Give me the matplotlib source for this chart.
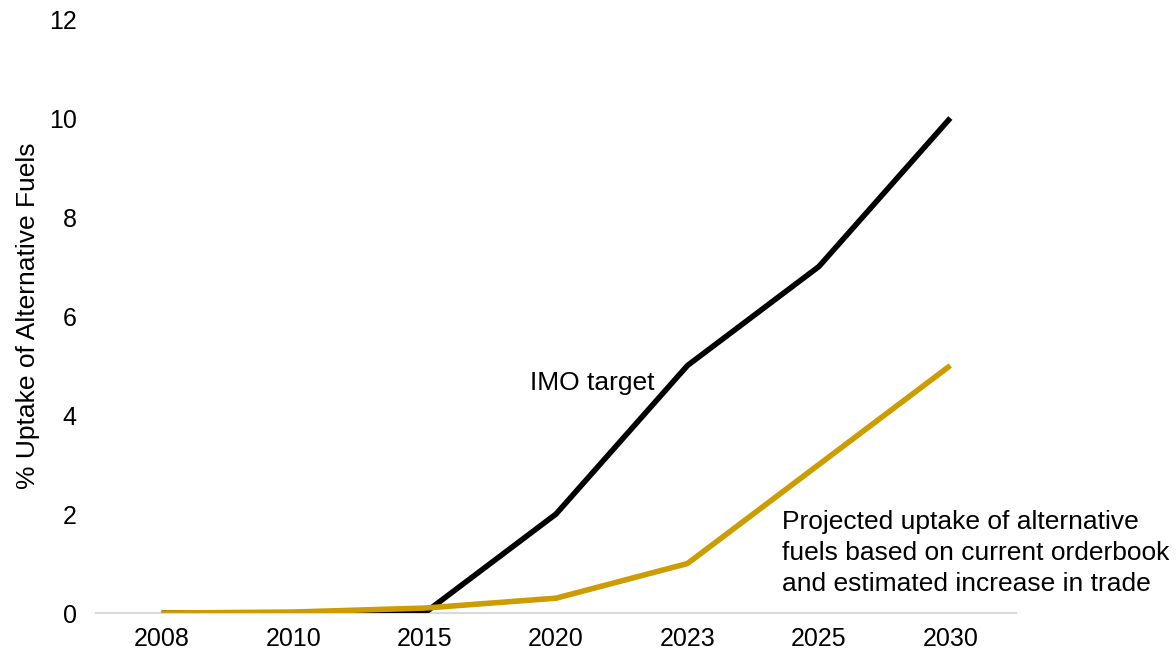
import numpy as np
import matplotlib.pyplot as plt

plt.rcParams['font.family'] = ['Liberation Sans', 'DejaVu Sans']

# uptake of alternative fuels (%)
YEARS = ['2008', '2010', '2015', '2020', '2023', '2025', '2030']
IMO_TARGET = [0, 0, 0, 2, 5, 7, 10]
PROJECTED = [0, 0.02, 0.1, 0.3, 1.0, 3, 5]

GOLD = '#CC9C00'

fig = plt.figure(figsize=(11.76, 6.56), dpi=100)
ax = fig.add_axes([0.0816, 0.0655, 0.7824, 0.9055])

x = np.arange(len(YEARS))
ax.plot(x, IMO_TARGET, color='black', lw=4, solid_capstyle='butt', zorder=3)
ax.plot(x, PROJECTED, color=GOLD, lw=4, solid_capstyle='butt', zorder=4)

ax.set_xlim(-0.5, len(YEARS) - 0.5)
ax.set_ylim(0, 12)
ax.set_yticks(np.arange(0, 13, 2))
ax.set_xticks(x)
ax.set_xticklabels(YEARS)

for side in ['left', 'right', 'top']:
    ax.spines[side].set_visible(False)
ax.spines['bottom'].set_color('#d9d9d9')
ax.spines['bottom'].set_linewidth(1.5)
ax.tick_params(length=0, labelsize=18)
ax.tick_params(axis='x', pad=10)
ax.tick_params(axis='y', pad=14)

ax.set_ylabel('% Uptake of Alternative Fuels', fontsize=19, labelpad=6)

ax.text(3.75, 4.65, 'IMO target', fontsize=19, ha='right', va='center')
ax.text(4.72, 1.21, 'Projected uptake of alternative\nfuels based on current orderbook\nand estimated increase in trade',
        fontsize=19, ha='left', va='center', linespacing=1.35)

fig.savefig('out.png', dpi=100)
